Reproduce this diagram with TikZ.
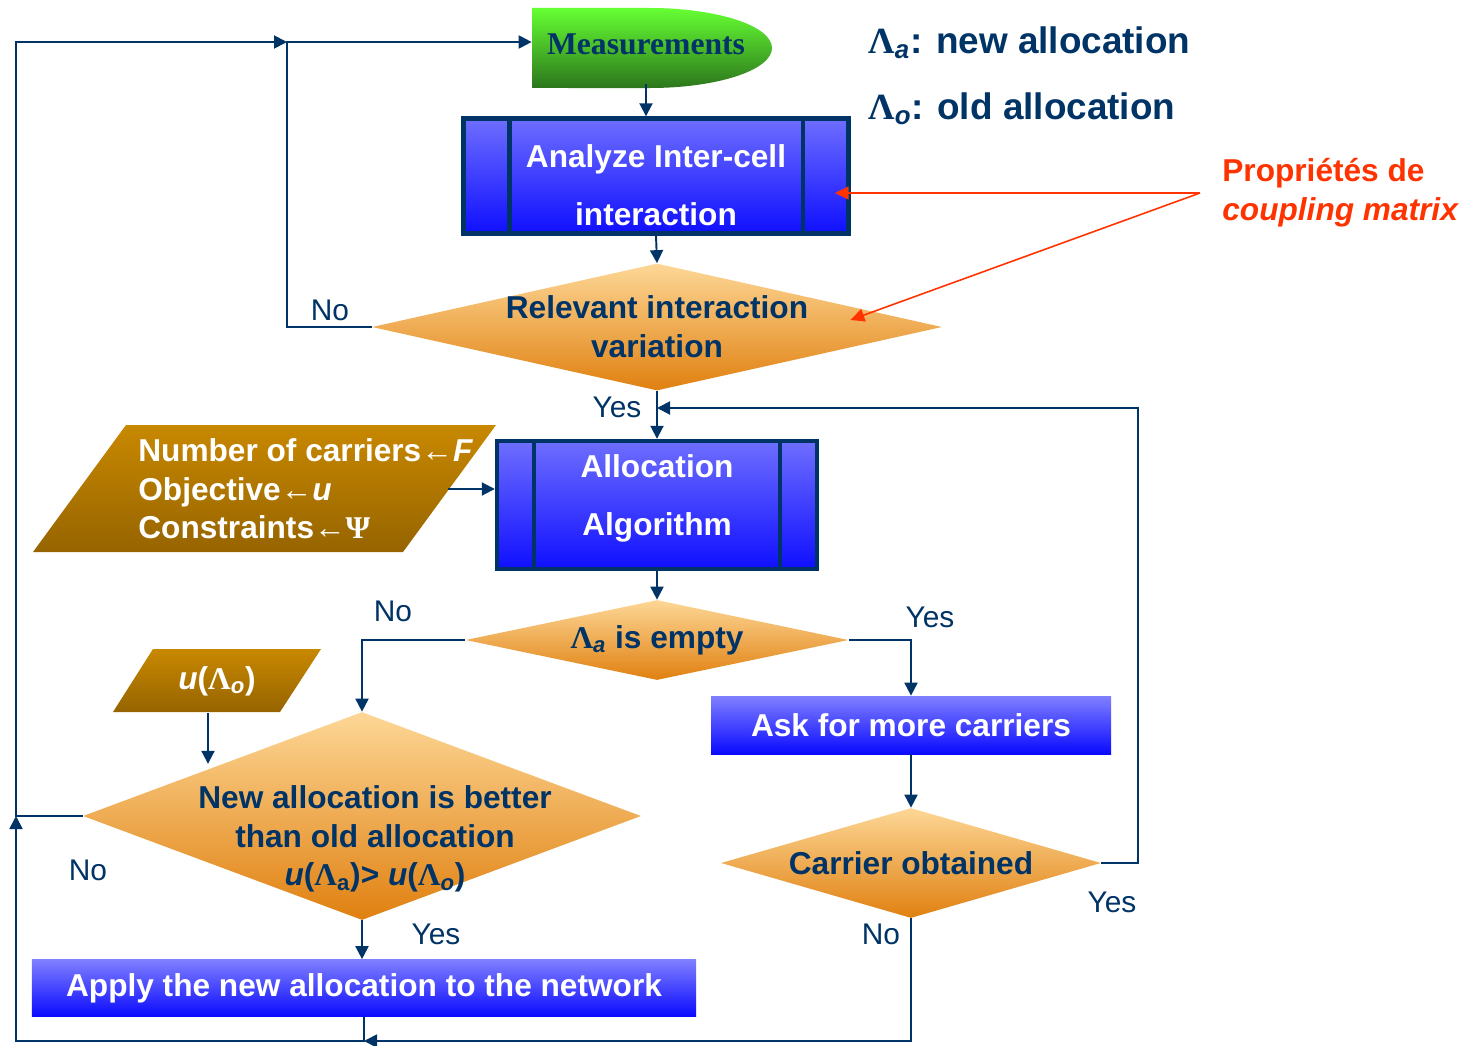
\documentclass[tikz,border=0pt]{standalone}
\usepackage{fontspec}
\setmainfont{Liberation Sans}
\newfontfamily\symbfont{Liberation Serif}
\usepackage{xcolor}
\usetikzlibrary{shapes.geometric}
\usetikzlibrary{arrows.meta}
\usetikzlibrary{positioning}
\usetikzlibrary{calc}

\definecolor{navy}{RGB}{0,51,102}
\definecolor{redline}{RGB}{255,51,0}
\definecolor{greentop}{RGB}{102,255,51}
\definecolor{greenbot}{RGB}{44,118,28}
\definecolor{proctop}{RGB}{110,110,255}
\definecolor{procbot}{RGB}{15,15,255}
\definecolor{boxtop}{RGB}{128,128,255}
\definecolor{boxbot}{RGB}{10,10,255}
\definecolor{dectop}{RGB}{253,215,150}
\definecolor{decbot}{RGB}{224,128,16}
\definecolor{inptop}{RGB}{200,136,0}
\definecolor{inpbot}{RGB}{150,100,0}

\newcommand{\boxfont}{\fontsize{18pt}{22pt}\selectfont\bfseries}
\newcommand{\legfont}{\fontsize{21pt}{25pt}\selectfont\bfseries}
\newcommand{\lblfont}{\fontsize{17pt}{20pt}\selectfont}
\newcommand{\LamS}{{\symbfont Λ}}
\newcommand{\PsiS}{{\symbfont Ψ}}

\begin{document}
\begin{tikzpicture}[x=0.2mm, y=-0.2mm,
			procnode/.style={rectangle, draw=navy, line width=2.5pt, top color=proctop, bottom color=procbot, text=white, font=\boxfont, align=center},
			bluenode/.style={rectangle, top color=boxtop, bottom color=boxbot, text=white, font=\boxfont, align=center},
			decnode/.style={diamond, top color=dectop, bottom color=decbot, text=navy, font=\boxfont, align=center, inner sep=-3mm},
			inpfill/.style={top color=inptop, bottom color=inpbot},
			inpnode/.style={rectangle, text=white, font=\boxfont, inner sep=0pt},
			measnode/.style={rectangle, text=navy, font=\fontsize{18pt}{22pt}\selectfont\symbfont\bfseries, inner sep=0pt, minimum width=45.6mm, minimum height=16mm},
			procbar/.style={draw=navy, line width=2.5pt},
			conn/.style={draw=navy, line width=1.1pt},
			arr/.style={conn, -{Triangle[length=2.6mm,width=2.6mm]}},
			redarr/.style={draw=redline, line width=0.9pt, -{Triangle[length=2.8mm,width=2.6mm]}},
			lbl/.style={text=navy, font=\lblfont, inner sep=0pt},
			]
			\useasboundingbox (0,0) rectangle (1470,1045);
			%Shapes
			\path[top color=greentop, bottom color=greenbot] (532,8) -- (650,8) arc[start angle=90, end angle=-90, x radius=24.4mm, y radius=8mm] -- (532,88) -- cycle;
			\path[inpfill] (126,425) -- (496,425) -- (403,552) -- (33,552) -- cycle;
			\path[inpfill] (153,649) -- (321,649) -- (280,712) -- (113,712) -- cycle;
			
			%Nodes
			\node[measnode] (meas) at (646,44) {Measurements};
			
			\node[procnode, minimum width=77mm, minimum height=23mm] (ana) at (656,176) {\rule{0pt}{23pt}Analyze Inter-cell\\[11pt]interaction};
			\node[decnode, minimum width=114mm, minimum height=25.4mm, aspect=4.5] (relevant) at (657,327) {Relevant interaction\\variation};
			
			\node[procnode, minimum width=64mm, minimum height=25.6mm] (alloc) at (657,505) {Allocation\\[11pt]Algorithm\rule[-11pt]{0pt}{0pt}};
			\node[inpnode, align=left, anchor=west, minimum height=25.4mm] (inputs) at (138,489) {Number of carriers←\textit{F}\\Objective←\textit{u}\\Constraints←\PsiS};
			
			\node[decnode, minimum width=76.6mm, minimum height=16mm, aspect=4.8] (empty) at (657,640) {\LamS\textsubscript{\textit{a}} is empty};
			\node[bluenode, minimum width=80mm, minimum height=11.6mm] (ask) at (911,725) {Ask for more carriers};
			\node[decnode, minimum width=76mm, minimum height=22mm, aspect=3.45] (carrier) at (911,863) {Carrier obtained};
			
			\node[inpnode, minimum height=12.6mm] (uold) at (217,681) {\textit{u}(\LamS\textsubscript{\textit{o}})};
			\node[decnode, minimum width=111.6mm, minimum height=41.6mm, aspect=2.68] (better) at (362,816) {};
			\node[text=navy, font=\boxfont, align=center, inner sep=0pt] (bettertext) at (375,839) {New allocation is better\\than old allocation\\\textit{u}(\LamS\textsubscript{a})> \textit{u}(\LamS\textsubscript{\textit{o}})};
			\node[bluenode, minimum width=132.8mm, minimum height=11.4mm] (apply) at (364,988) {Apply the new allocation to the network};
			
			\node[text=navy, font=\legfont, anchor=west, inner sep=0pt] (legnew) at (868,43) {\LamS\textsubscript{\textit{a}}: new allocation};
			\node[text=navy, font=\legfont, anchor=west, inner sep=0pt] (legold) at (868,109) {\LamS\textsubscript{\textit{o}}: old allocation};
			\node[text=redline, font=\boxfont, align=left, anchor=west, inner sep=0pt] (prop) at (1222,193) {Propriétés de\\\textit{coupling matrix}};
			
			\coordinate (join) at (287,42);
			\coordinate (loopTL) at (16,42);
			\coordinate (loopBL) at (16,1041);
			\coordinate (loopR) at (1138,408);
			\coordinate (redsrc) at (1200,193);
			
			%Lines
			\draw[arr] (meas.south) -- (meas.south |- ana.north);
			\draw[arr] (ana.south) -- (relevant.north);
			\draw[arr] (relevant.south) -- (alloc.north);
			\draw[arr] (relevant.west) -| (join) -- (join -| meas.west);
			\draw[arr] ([xshift=-5mm]inputs.east) -- (inputs.east -| alloc.west);
			\draw[arr] (alloc.south) -- (empty.north);
			\draw[arr] (empty.west) -| (better.north);
			\draw[arr] (empty.east) -| (ask.north);
			\draw[arr] (ask.south) -- (carrier.north);
			\draw[arr] (carrier.east) -| (loopR) -- (loopR -| relevant.south);
			\draw[arr] (carrier.south) |- (apply.south |- loopBL);
			\draw[arr] ([xshift=-1.8mm]uold.south) -- ([xshift=-1.8mm]uold.south |- better.north west);
			\draw[arr] (better.south) -- (better.south |- apply.north);
			\draw[arr] (apply.south) |- (loopBL) -- (loopBL |- better.west);
			\draw[arr] (better.west) -| (loopTL) -- (join);
			
			\draw[procbar] ([xshift=9.6mm]ana.north west) -- ([xshift=9.6mm]ana.south west);
			\draw[procbar] ([xshift=-9.6mm]ana.north east) -- ([xshift=-9.6mm]ana.south east);
			\draw[procbar] ([xshift=7.8mm]alloc.north west) -- ([xshift=7.8mm]alloc.south west);
			\draw[procbar] ([xshift=-7.8mm]alloc.north east) -- ([xshift=-7.8mm]alloc.south east);
			
			\draw[redarr] (redsrc) -- ($(redsrc -| ana.east)+(-16,0)$);
			\draw[redarr] (redsrc) -- ($(relevant.east)+(-92,-7)$);
			
			%Labels
			\node[lbl] (noA) at (330,310) {No};
			\node[lbl] (yesA) at (617,407) {Yes};
			\node[lbl] (noB) at (393,611) {No};
			\node[lbl] (yesB) at (930,617) {Yes};
			\node[lbl] (noC) at (88,870) {No};
			\node[lbl] (yesC) at (436,934) {Yes};
			\node[lbl] (yesD) at (1112,902) {Yes};
			\node[lbl] (noD) at (881,934) {No};
		\end{tikzpicture}
\end{document}
